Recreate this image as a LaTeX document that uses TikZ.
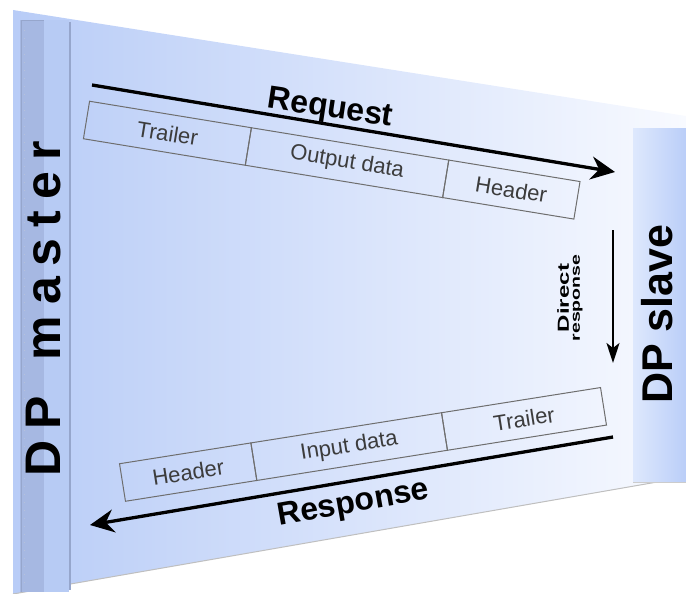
\documentclass[tikz,border=0pt]{standalone}
\usepackage{fontspec}
\setmainfont{Liberation Sans}
\usetikzlibrary{arrows.meta}
\definecolor{panelL}{RGB}{184,204,247}
\definecolor{panelR}{RGB}{248,250,255}
\definecolor{stripDark}{RGB}{166,184,226}
\definecolor{stripLight}{RGB}{183,203,244}
\definecolor{stripLine}{RGB}{150,166,204}
\definecolor{slaveL}{RGB}{222,232,253}
\definecolor{slaveR}{RGB}{186,206,248}
\definecolor{boxline}{RGB}{110,110,110}
\definecolor{boxtext}{RGB}{60,60,60}
\tikzset{
  seg/.style={draw=boxline, line width=1pt, minimum height=38pt, inner sep=0pt,
    outer sep=0pt, text=boxtext, font=\fontsize{22}{24}\selectfont, anchor=west},
  bigarrow/.style={line width=3.3pt, -{Stealth[length=24pt,width=23pt,inset=8pt]}},
  smallarrow/.style={line width=2pt, -{Stealth[length=20pt,width=13pt,inset=5pt]}},
  biglabel/.style={font=\fontsize{32}{34}\selectfont\bfseries, inner sep=0pt, anchor=base},
  sidelabel/.style={inner sep=0pt, rotate=90}
}
\begin{document}
\begin{tikzpicture}[x=1pt,y=-1pt]
\useasboundingbox (0,0) rectangle (686,594);
% panel
\shade[left color=panelL, right color=panelR] (13,10) -- (686,116) -- (686,477) -- (13,594) -- cycle;
\draw[black!25, line width=1pt] (13,594) -- (686,477);
% master strip
\fill[stripDark] (20,20) rectangle (44,592);
\fill[stripLight] (44,20) rectangle (69,592);
\draw[stripLine, line width=0.8pt] (21,592) -- (21,20) -- (44,20);
\draw[stripLine!70, dash pattern=on 1pt off 7pt] (24,30) -- (24,585);
\draw[stripLine, line width=1.6pt] (70,22) -- (70,590);
% slave strip
\shade[left color=slaveL, right color=slaveR] (633,128) rectangle (686,482);
\draw[black!20, line width=1pt] (633,482) -- (686,482);
% side labels
\node[sidelabel, font=\fontsize{50}{50}\selectfont\bfseries] (master) at (44,309)
  {D\kern11pt P\kern11pt\ \kern11pt m\kern11pt a\kern11pt s\kern11pt t\kern11pt e\kern11pt r};
\node[sidelabel, font=\fontsize{43}{43}\selectfont\bfseries] (slave) at (657,314) {DP slave};
% request frame
\node[seg, rotate=-9.3, minimum width=164pt] (rt) at (86.5,120) {Trailer};
\node[seg, rotate=-9.3, minimum width=200pt] (ro) at (rt.east) {Output data};
\node[seg, rotate=-9.3, minimum width=133pt] (rh) at (ro.east) {Header};
% response frame
\node[seg, rotate=9.0, minimum width=133pt] (sh) at (122.5,482.5) {Header};
\node[seg, rotate=9.0, minimum width=193pt] (si) at (sh.east) {Input data};
\node[seg, rotate=9.0, minimum width=161pt] (st) at (si.east) {Trailer};
% arrows
\coordinate (rqs) at (92,85);
\coordinate (rqe) at (615,172);
\draw[bigarrow] (rqs) -- (rqe);
\coordinate (rss) at (613,437);
\coordinate (rse) at (90,525);
\draw[bigarrow] (rss) -- (rse);
\coordinate (drs) at (613,230);
\coordinate (dre) at (613,363);
\draw[smallarrow] (drs) -- (dre);
% labels
\node[biglabel, rotate=-8.5] (req) at (329,117) {Request};
\node[biglabel, rotate=10] (resp) at (355,512) {Response};
\node[sidelabel, align=center, font=\bfseries] (direct) at (570,298)
  {\scalebox{1.5}[1]{\fontsize{16}{12.5}\selectfont Direct}\\[-1pt]
   \scalebox{1.5}[1]{\fontsize{13}{12.5}\selectfont response}};
\end{tikzpicture}
\end{document}
